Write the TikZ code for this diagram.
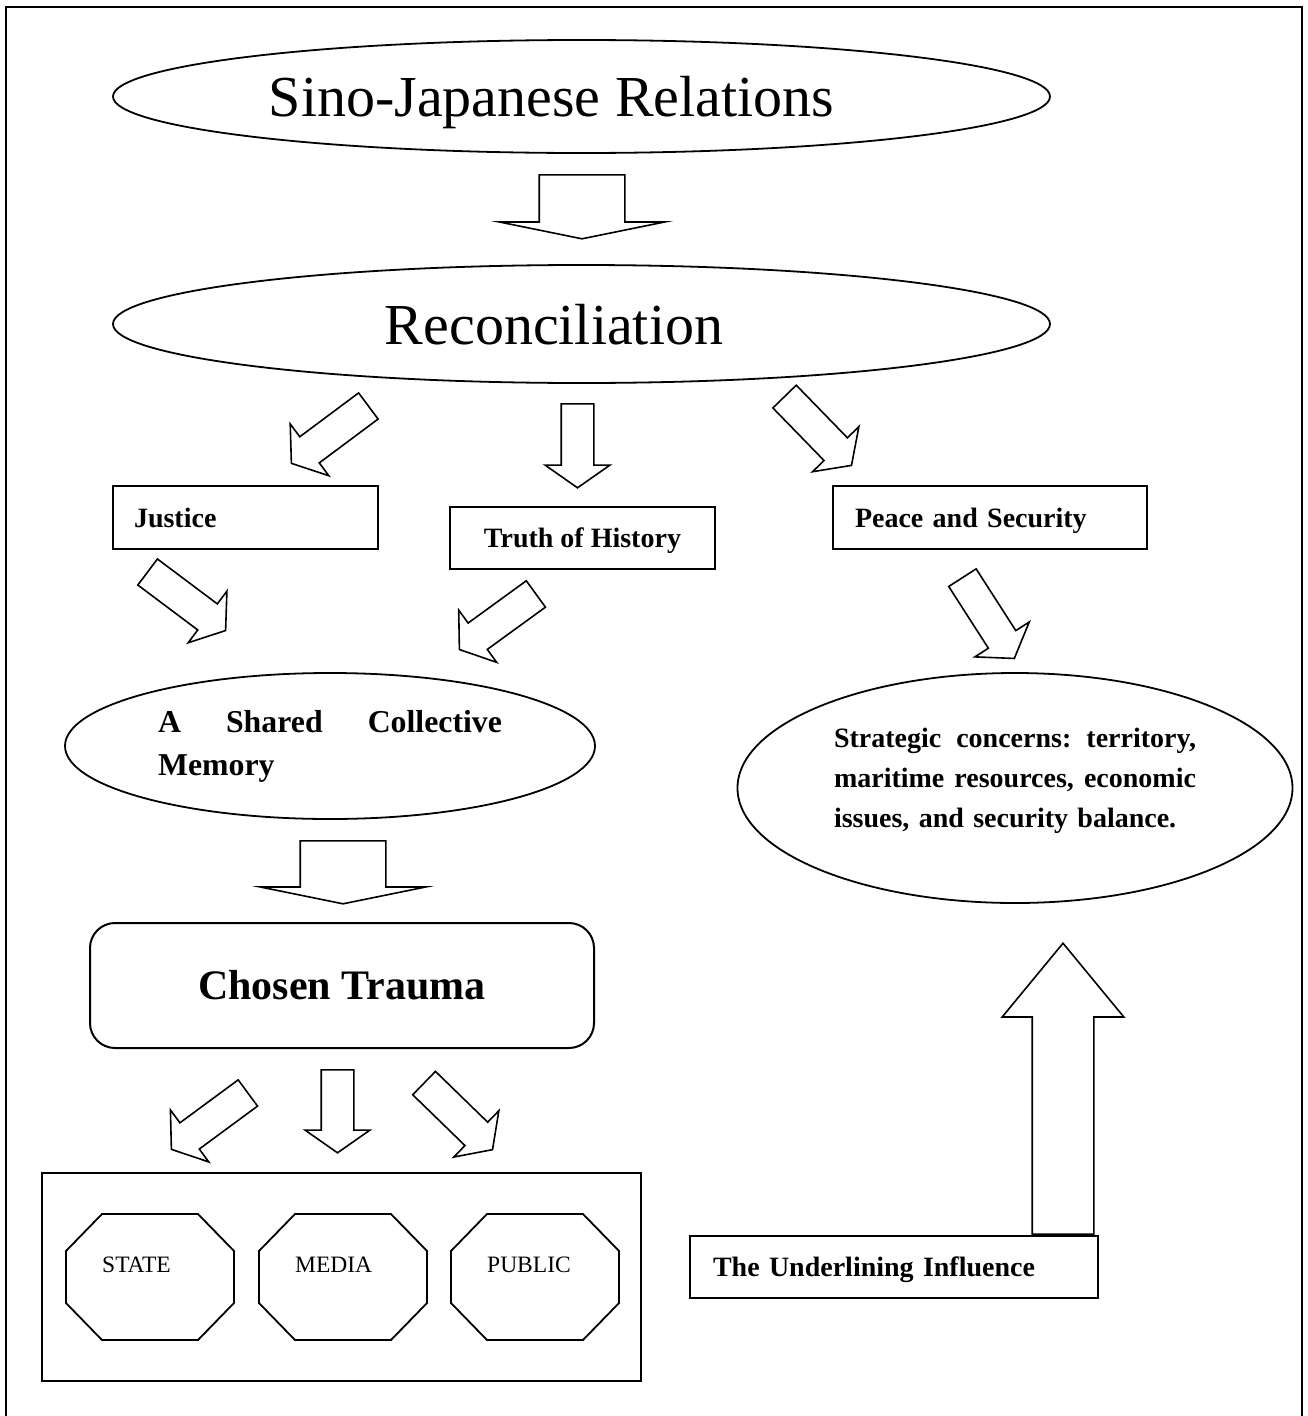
\documentclass[tikz,border=0pt]{standalone}
\usepackage{fontspec}
\setmainfont{Liberation Serif}
\usetikzlibrary{shapes.geometric,shapes.arrows}

\tikzset{
  oval/.style={draw, ellipse, line width=1.8pt, inner sep=0pt},
  plainbox/.style={draw, rectangle, line width=2pt, inner ysep=0pt},
  boxtext/.style={text depth=0pt, font=\bfseries\fontsize{28}{34}\selectfont},
  blockarrow/.style n args={4}{draw, single arrow, line width=1.6pt,
      inner xsep=0pt, inner ysep=#1, single arrow head extend=#2,
      minimum height=#3, single arrow tip angle=#4, anchor=tail},
  slim/.style={blockarrow={15.5pt}{16pt}{#1}{110}},
  flat/.style={blockarrow={42pt}{40pt}{#1}{157}},
  octagon/.style={line width=1.8pt},
  actor/.style={inner sep=0pt, font=\fontsize{23.5}{28}\selectfont},
}

\begin{document}
\begin{tikzpicture}[x=1pt,y=-1pt]
    \useasboundingbox (0,0) rectangle (1308,1416);
    \draw[line width=2.2pt] (6,1416) -- (6,7) -- (1302,7) -- (1302,1416);

    % top of the chart
    \node[oval, minimum width=937pt, minimum height=113pt, text depth=0pt,
          font=\fontsize{58}{70}\selectfont] (sino) at (581.5,96.5) {\hspace*{-60pt}Sino-Japanese Relations};
    \node[flat=64pt, rotate=-90] (toRecon) at (582,174) {};
    \node[oval, minimum width=937pt, minimum height=118pt, text depth=0pt,
          font=\fontsize{58}{70}\selectfont] (recon) at (581.5,324) {\hspace*{-55pt}Reconciliation};

    % three aims
    \node[plainbox, boxtext, minimum width=265pt, minimum height=63pt, inner xsep=21pt,
          text width=223pt, align=left] (justice) at (245.5,517.5) {Justice};
    \node[plainbox, boxtext, minimum width=265pt, minimum height=62pt] (truth) at (582.5,538) {Truth of History};
    \node[plainbox, boxtext, minimum width=314pt, minimum height=63pt, inner xsep=22pt,
          text width=270pt, align=left] (peace) at (990,517.5) {Peace and Security};

    \node[oval, minimum width=530pt, minimum height=146pt, text width=344pt, align=left,
          font=\bfseries\fontsize{31.8}{43}\selectfont] (memory) at (330,746) {A\hfill Shared\hfill Collective\\Memory};
    \node[oval, minimum width=555pt, minimum height=230pt, text width=362pt, align=left, text depth=101pt,
          font=\bfseries\fontsize{28}{40}\selectfont] (strategic) at (1015,788)
          {Strategic\hfill concerns:\hfill territory,\\maritime\hfill resources,\hfill economic\\issues, and security balance.};

    \node[flat=63pt, rotate=-90] (toTrauma) at (343,840) {};
    \node[draw, rounded corners=25pt, line width=2pt, minimum width=504pt, minimum height=125pt,
          font=\bfseries\fontsize{42}{50}\selectfont] (trauma) at (342,985.5) {Chosen Trauma};

    % small block arrows
    \foreach \name/\x/\y/\ang/\len in {toJustice/369/405.5/216.7/96pt, toTruth/577.5/403/-90/84pt,
        toPeace/784/396/-45.8/96pt, fromJustice/147/571.5/-36.9/97.5pt, fromTruth/536.5/593.5/216/94.5pt,
        fromPeace/962/577/-57.3/96pt, toState/248.5/1092.5/216.4/95pt, toMedia/337.5/1069/-90/83pt,
        toPublic/423.5/1082.5/-44.2/95.5pt}
      \node[slim=\len, rotate=\ang] (\name) at (\x,\y) {};

    % state, media, public
    \node[plainbox, minimum width=599pt, minimum height=208pt] (actors) at (341.5,1277) {};
    \foreach \cx/\name/\word in {150/state/STATE, 343/media/MEDIA, 535/public/PUBLIC}{
      \draw[octagon] (\cx-48,1214) -- ++(96,0) -- ++(36,37) -- ++(0,52)
        -- ++(-36,37) -- ++(-96,0) -- ++(-36,-37) -- ++(0,-52) -- cycle;
      \node[actor, anchor=base west] (\name) at (\cx-48,1272) {\word};
    }

    \node[plainbox, boxtext, minimum width=408pt, minimum height=62pt, inner xsep=23pt,
          text width=362pt, align=left] (influence) at (894,1267) {The Underlining Influence};
    \node[blockarrow={30pt}{30pt}{291pt}{79}, rotate=90] (upward) at (1063,1235) {};
\end{tikzpicture}
\end{document}
